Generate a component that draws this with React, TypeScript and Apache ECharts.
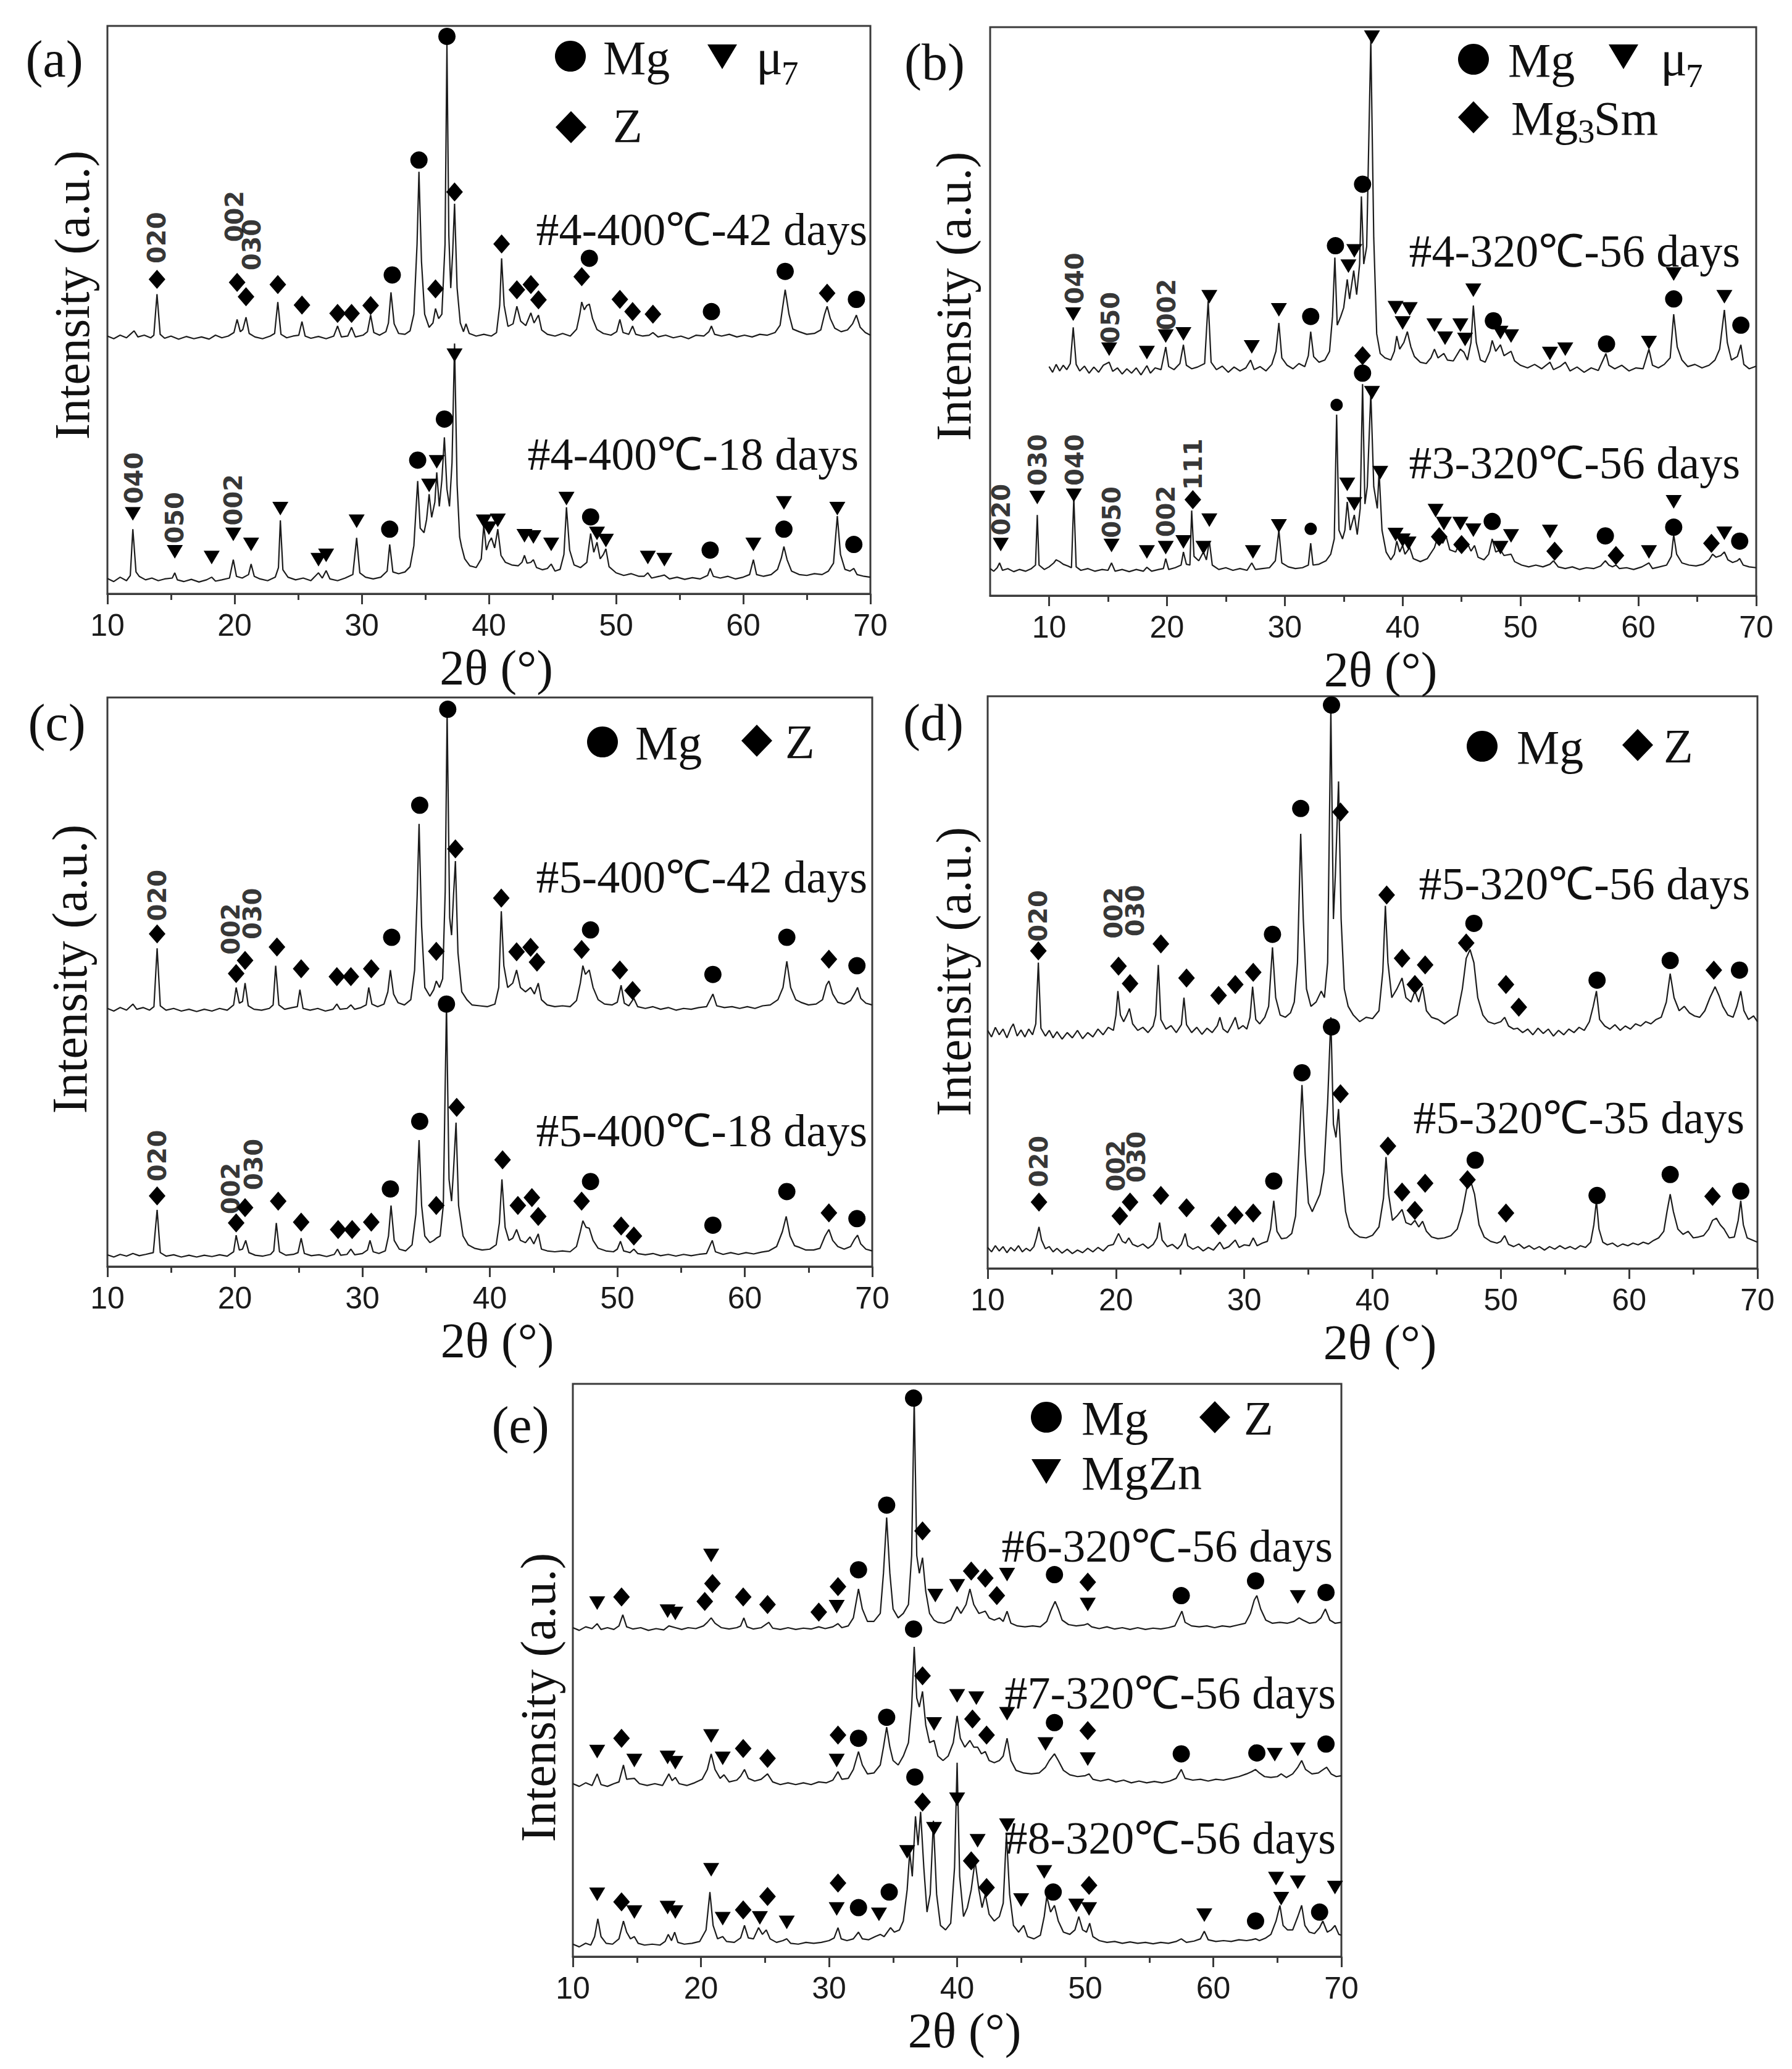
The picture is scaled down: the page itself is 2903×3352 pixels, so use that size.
import React, { useEffect, useRef } from "react";
import * as echarts from "echarts";

// ---------- axis ticks ----------
const X_TICKS = [10, 20, 30, 40, 50, 60, 70];
const X_MINOR = [15, 25, 35, 45, 55, 65];

// ---------- sample names ----------
const NAMES_A = ["#4-400℃-42 days", "#4-400℃-18 days"];
const NAMES_B = ["#4-320℃-56 days", "#3-320℃-56 days"];
const NAMES_C = ["#5-400℃-42 days", "#5-400℃-18 days"];
const NAMES_D = ["#5-320℃-56 days", "#5-320℃-35 days"];
const NAMES_E = ["#6-320℃-56 days", "#7-320℃-56 days", "#8-320℃-56 days"];

// ---------- panel (a) ----------
const A_42 = [[10,590],[10.5,584],[11,592],[11.5,586],[11.8,594],[12.1,602],[12.4,588],[12.9,592],[13.4,586],[13.65,592],[13.9,686],[14.15,594],[14.5,585],[15,590],[15.6,583],[16.2,589],[16.8,584],[17.4,588],[18,583],[18.5,592],[19,586],[19.5,590],[19.95,598],[20.2,628],[20.45,600],[20.65,605],[20.9,633],[21.15,596],[21.6,588],[22.2,584],[22.8,590],[23.15,596],[23.4,668],[23.65,594],[24.1,586],[24.6,590],[25.05,592],[25.3,623],[25.55,590],[26,585],[26.6,589],[27.2,584],[27.8,590],[28.1,613],[28.4,588],[28.9,590],[29.2,610],[29.5,588],[30.1,592],[30.45,600],[30.7,638],[30.95,598],[31.4,592],[31.9,600],[32.1,620],[32.3,690],[32.55,618],[32.9,596],[33.4,594],[33.8,602],[34.1,640],[34.35,800],[34.5,966],[34.7,760],[34.95,640],[35.3,610],[35.6,620],[35.8,653],[36.05,630],[36.3,640],[36.55,800],[36.7,1258],[36.85,820],[37.0,700],[37.15,780],[37.3,893],[37.5,700],[37.75,620],[38.0,600],[38.2,618],[38.45,596],[39,590],[39.6,594],[40.2,590],[40.6,598],[40.85,660],[41.0,768],[41.2,660],[41.5,612],[41.9,618],[42.2,658],[42.5,624],[42.9,614],[43.3,643],[43.55,620],[43.9,638],[44.15,604],[44.6,594],[45.2,590],[45.8,596],[46.4,590],[46.9,606],[47.15,640],[47.3,668],[47.5,650],[47.7,660],[47.9,663],[48.15,630],[48.5,605],[49,596],[49.6,592],[50.05,600],[50.3,628],[50.55,598],[51,594],[51.3,613],[51.55,594],[52.1,590],[52.6,592],[52.9,598],[53.3,588],[53.9,592],[54.5,586],[55.1,590],[55.7,584],[56.3,592],[56.9,590],[57.3,600],[57.5,613],[57.75,594],[58.3,590],[58.9,594],[59.5,588],[60.1,592],[60.7,588],[61.3,594],[61.9,592],[62.5,598],[62.9,615],[63.3,696],[63.6,640],[63.9,606],[64.4,600],[65,594],[65.6,596],[66.1,604],[66.4,640],[66.6,658],[66.85,630],[67.2,608],[67.7,600],[68.2,604],[68.6,618],[68.9,638],[69.2,610],[69.6,598],[70,592]];
const A_18 = [[10,35],[10.5,28],[11,38],[11.5,30],[11.8,42],[12.0,148],[12.25,50],[12.5,40],[13,32],[13.5,36],[14,30],[14.5,34],[15.1,36],[15.3,48],[15.5,32],[16,28],[16.6,33],[17.2,27],[17.8,32],[18.2,38],[18.5,29],[19,32],[19.6,36],[19.9,78],[20.15,40],[20.6,36],[21.1,44],[21.3,68],[21.55,40],[22,34],[22.6,30],[23.2,38],[23.45,60],[23.6,168],[23.8,55],[24.2,38],[24.8,32],[25.4,36],[26,30],[26.6,48],[26.9,36],[27.2,53],[27.5,34],[28.1,30],[28.7,36],[29.3,44],[29.6,128],[29.85,48],[30.3,38],[30.9,34],[31.5,38],[32.0,52],[32.2,113],[32.45,50],[32.9,46],[33.4,50],[33.8,62],[34.1,110],[34.4,258],[34.6,150],[34.9,140],[35.1,170],[35.3,228],[35.5,175],[35.75,210],[35.9,278],[36.1,200],[36.3,260],[36.5,358],[36.7,240],[36.9,200],[37.1,300],[37.3,573],[37.5,250],[37.7,130],[37.85,108],[38.1,80],[38.5,64],[39,60],[39.4,80],[39.6,158],[39.8,100],[40.0,118],[40.2,128],[40.45,105],[40.7,148],[40.95,88],[41.3,72],[41.8,66],[42.3,64],[42.6,72],[42.8,88],[43.0,70],[43.3,72],[43.5,78],[43.75,60],[44.2,55],[44.6,58],[44.9,68],[45.2,52],[45.6,56],[45.9,90],[46.1,198],[46.35,100],[46.7,66],[47.2,60],[47.7,72],[48.0,138],[48.25,95],[48.5,118],[48.75,80],[49.0,90],[49.2,103],[49.45,62],[50,48],[50.6,42],[51.2,46],[51.8,40],[52.2,40],[52.5,48],[52.8,36],[53.4,40],[53.8,43],[54.2,34],[54.8,38],[55.4,33],[56,37],[56.6,34],[57.2,42],[57.4,58],[57.65,40],[58.2,36],[58.8,40],[59.4,34],[60,38],[60.5,44],[60.8,78],[61.05,44],[61.6,40],[62.2,44],[62.7,56],[63.0,82],[63.2,108],[63.45,78],[63.8,52],[64.4,44],[65,42],[65.6,46],[66.2,44],[66.7,52],[67.1,70],[67.4,178],[67.65,90],[68,56],[68.4,52],[68.7,58],[68.95,44],[69.5,40],[70,38]];
const A_MG = [[32.4,730],[34.5,993],[36.7,1276],[47.9,768],[57.5,646],[63.3,738],[68.9,674],[32.2,148],[34.4,306],[36.5,400],[48.0,176],[57.4,100],[63.2,148],[68.7,113]];
const A_Z = [[13.9,720],[20.2,713],[20.9,680],[23.4,708],[25.3,661],[28.1,642],[29.2,642],[30.7,660],[35.8,698],[37.3,920],[41.0,801],[42.2,696],[43.3,708],[43.9,673],[47.3,726],[50.3,674],[51.3,646],[52.9,640],[66.6,688]];
const A_MU7 = [[12.0,183],[15.3,96],[18.2,83],[19.9,136],[21.3,113],[23.6,195],[26.6,78],[27.2,88],[29.6,166],[35.3,248],[35.9,302],[37.3,546],[39.6,166],[40.0,150],[40.7,168],[42.8,133],[43.5,130],[44.9,113],[46.1,218],[48.5,138],[49.2,122],[52.5,83],[53.8,78],[60.8,113],[63.2,208],[67.4,195]];
const A_HKL: [number, number, string][] = [[13.9,756,"020"],[20.0,805,"002"],[21.35,740,"030"],[12.1,206,"040"],[15.3,115,"050"],[19.9,156,"002"]];

// ---------- panel (b) ----------
const B_4 = [[10,525],[10.3,512],[10.6,530],[10.9,515],[11.2,528],[11.5,518],[11.8,532],[12.05,615],[12.3,530],[12.6,515],[13,526],[13.4,510],[13.8,524],[14.2,512],[14.6,528],[15.1,535],[15.4,514],[15.8,522],[16.2,508],[16.6,520],[17,510],[17.4,522],[17.8,506],[18.3,527],[18.6,510],[19,522],[19.5,518],[19.9,570],[20.15,525],[20.6,518],[21.1,532],[21.4,575],[21.65,528],[22.1,520],[22.6,524],[23.2,532],[23.5,675],[23.75,535],[24.2,518],[24.7,526],[25.2,512],[25.7,524],[26.2,515],[26.7,522],[27.1,540],[27.4,518],[27.9,525],[28.4,515],[28.9,530],[29.25,560],[29.5,625],[29.75,545],[30.2,528],[30.7,520],[31.2,532],[31.7,525],[32.0,550],[32.2,605],[32.45,548],[32.9,535],[33.4,540],[33.8,560],[34.05,640],[34.25,775],[34.45,620],[34.75,640],[35.0,660],[35.3,725],[35.5,680],[35.85,745],[36.1,690],[36.35,760],[36.5,915],[36.7,760],[36.95,800],[37.3,1275],[37.55,820],[37.8,600],[38.1,555],[38.5,545],[39.0,540],[39.3,560],[39.5,595],[39.75,565],[40.1,580],[40.4,605],[40.7,570],[41.0,548],[41.5,535],[42.0,532],[42.4,545],[42.7,565],[43.0,545],[43.5,555],[43.8,540],[44.3,538],[44.9,565],[45.2,558],[45.5,540],[45.8,580],[46.0,665],[46.25,580],[46.6,540],[47.0,535],[47.4,560],[47.6,585],[47.9,560],[48.3,575],[48.6,550],[49.2,560],[49.5,538],[50,528],[50.6,522],[51.2,530],[51.8,520],[52.5,535],[52.8,518],[53.4,526],[53.8,535],[54.2,515],[54.8,524],[55.4,512],[56,522],[56.6,516],[57.25,555],[57.5,528],[58,520],[58.6,528],[59.2,515],[59.8,522],[60.4,520],[60.9,565],[61.2,528],[61.7,522],[62.2,530],[62.7,545],[63.0,645],[63.3,570],[63.7,540],[64.2,525],[64.8,530],[65.4,522],[66,528],[66.5,540],[66.9,565],[67.3,655],[67.55,580],[67.9,540],[68.4,548],[68.7,575],[68.95,530],[69.4,520],[70,526]];
const B_3 = [[5,62],[5.3,56],[5.6,64],[5.8,75],[6.05,58],[6.5,62],[7,55],[7.5,60],[8,56],[8.5,62],[8.85,70],[9.0,185],[9.15,70],[9.6,60],[10,66],[10.4,75],[10.6,82],[10.9,78],[11.2,72],[11.6,68],[11.9,64],[12.1,225],[12.3,66],[12.7,58],[13.3,62],[13.9,56],[14.5,60],[15.0,58],[15.3,75],[15.6,56],[16.2,60],[16.8,55],[17.4,60],[18.0,56],[18.3,65],[18.7,56],[19.3,60],[19.7,62],[19.9,85],[20.15,60],[20.7,64],[21.2,70],[21.4,100],[21.65,72],[21.95,70],[22.1,195],[22.3,90],[22.7,80],[23.1,100],[23.35,82],[23.6,125],[23.85,70],[24.4,60],[25,64],[25.6,58],[26.2,62],[26.8,58],[27.2,75],[27.5,60],[28.1,62],[28.7,64],[29.2,80],[29.5,150],[29.75,75],[30.3,66],[30.9,62],[31.5,64],[32.0,70],[32.2,120],[32.4,70],[32.9,72],[33.5,80],[33.9,95],[34.2,130],[34.4,415],[34.6,150],[34.9,130],[35.1,150],[35.3,215],[35.55,150],[35.9,185],[36.15,140],[36.4,200],[36.6,485],[36.8,210],[37.0,250],[37.3,465],[37.55,250],[37.85,200],[38.0,285],[38.25,150],[38.6,100],[39.0,82],[39.3,95],[39.5,125],[39.75,100],[40.0,115],[40.2,95],[40.6,110],[40.9,85],[41.5,78],[42.1,85],[42.7,110],[43.1,145],[43.4,120],[43.7,135],[44.0,105],[44.5,100],[44.9,125],[45.2,110],[45.5,120],[45.8,102],[46.1,115],[46.4,88],[46.9,82],[47.3,95],[47.6,130],[47.9,100],[48.3,105],[48.6,92],[49.2,95],[49.5,78],[50.1,70],[50.7,66],[51.3,70],[51.9,66],[52.5,72],[52.8,80],[53.2,66],[53.8,62],[54.4,66],[55,60],[55.6,64],[56.2,62],[56.8,68],[57.2,80],[57.5,70],[57.8,66],[58.1,70],[58.4,62],[59,64],[59.6,60],[60.3,66],[60.9,75],[61.2,62],[61.8,66],[62.4,70],[62.8,90],[63.0,140],[63.25,95],[63.7,75],[64.3,70],[64.9,68],[65.5,72],[66.0,82],[66.3,95],[66.6,88],[67.0,92],[67.3,100],[67.6,82],[68.0,76],[68.4,80],[68.6,85],[68.9,70],[69.4,66],[70,64]];
const B_MG = [[32.2,640],[34.3,802],[36.6,943],[47.7,630],[57.3,577],[63.0,680],[68.7,620],[36.6,510],[47.6,170],[57.2,137],[63.0,157],[68.6,125]];
const B_MG_SMALL = [[32.2,153],[34.4,437]];
const B_MG3SM = [[22.2,220],[36.6,550],[43.1,135],[45.0,117],[52.9,102],[58.1,92],[66.2,120]];
const B_MU7 = [[12.05,645],[15.1,565],[18.3,557],[19.9,595],[21.4,600],[23.6,685],[27.2,570],[29.5,655],[35.4,755],[35.9,790],[37.4,1280],[39.4,660],[40.0,625],[40.6,657],[42.7,620],[43.6,590],[44.9,620],[45.3,587],[46.0,700],[48.3,603],[49.2,595],[52.5,555],[53.8,565],[60.9,580],[63.0,737],[67.3,685],
  [5.9,117],[9.0,225],[12.1,230],[15.3,115],[18.3,100],[19.9,110],[21.4,123],[23.1,110],[23.6,173],[27.3,100],[29.5,160],[35.3,255],[35.9,210],[37.4,465],[38.1,282],[39.4,140],[40.0,127],[40.5,120],[42.8,195],[43.5,165],[44.9,165],[46.0,150],[48.3,110],[49.2,137],[52.5,147],[60.9,100],[63.0,215],[67.3,143]];
const B_HKL: [number, number, string][] = [[12.15,668,"040"],[15.2,578,"050"],[20.0,608,"002"],[5.95,138,"020"],[9.05,252,"030"],[12.15,252,"040"],[15.3,132,"050"],[19.95,134,"002"],[22.25,242,"111"]];

// ---------- panel (c) ----------
const C_42 = [[10,592],[10.5,586],[11,594],[11.5,588],[12.0,602],[12.3,590],[12.8,594],[13.3,588],[13.65,596],[13.9,730],[14.15,598],[14.6,588],[15.2,592],[15.8,586],[16.4,590],[17,585],[17.6,590],[18.2,586],[18.8,592],[19.4,588],[19.9,600],[20.1,640],[20.35,604],[20.6,608],[20.8,650],[21.05,598],[21.5,590],[22.1,588],[22.7,592],[23.0,600],[23.2,690],[23.45,600],[23.9,590],[24.5,594],[24.9,596],[25.1,635],[25.35,592],[25.9,588],[26.5,592],[27.1,586],[27.7,590],[28.0,602],[28.25,590],[28.8,592],[29.1,600],[29.4,590],[29.9,594],[30.3,600],[30.5,640],[30.75,602],[31.2,596],[31.7,602],[32.0,630],[32.2,680],[32.45,625],[32.8,605],[33.3,600],[33.8,612],[34.1,680],[34.3,850],[34.45,1015],[34.65,780],[34.9,640],[35.3,620],[35.6,635],[35.8,655],[36.05,640],[36.3,660],[36.5,860],[36.65,1270],[36.85,800],[37.0,760],[37.15,850],[37.3,930],[37.5,720],[37.8,630],[38.2,612],[38.6,600],[39.2,598],[39.8,596],[40.4,602],[40.7,640],[40.9,815],[41.1,690],[41.4,640],[41.8,650],[42.1,680],[42.4,640],[42.8,630],[43.2,640],[43.5,625],[43.8,650],[44.05,612],[44.5,600],[45.1,596],[45.7,598],[46.3,596],[46.8,610],[47.1,650],[47.3,690],[47.5,670],[47.8,680],[48.1,640],[48.5,612],[49.0,602],[49.6,600],[50.0,606],[50.3,645],[50.55,604],[50.9,598],[51.3,615],[51.6,596],[52.2,592],[52.8,596],[53.4,590],[54.0,594],[54.6,588],[55.2,592],[55.8,590],[56.4,594],[57.0,596],[57.5,625],[57.8,598],[58.4,594],[59.0,596],[59.6,592],[60.2,596],[60.8,592],[61.4,598],[62.0,600],[62.6,612],[63.0,640],[63.3,700],[63.6,640],[64.0,612],[64.4,606],[65.0,600],[65.6,602],[66.1,612],[66.4,645],[66.6,655],[66.9,625],[67.3,606],[67.8,602],[68.3,610],[68.6,625],[68.85,640],[69.1,615],[69.5,604],[70,600]];
const C_18 = [[10,27],[10.5,22],[11,28],[11.5,24],[12,30],[12.5,25],[13,28],[13.6,32],[13.9,130],[14.15,32],[14.6,24],[15.2,27],[15.8,22],[16.4,26],[17,22],[17.6,26],[18.2,23],[18.8,27],[19.4,24],[19.9,34],[20.1,72],[20.35,38],[20.6,40],[20.85,60],[21.1,32],[21.6,26],[22.2,24],[22.8,28],[23.05,36],[23.25,100],[23.5,34],[24,26],[24.6,28],[24.95,32],[25.2,65],[25.45,30],[26,25],[26.6,27],[27.2,23],[27.8,28],[28.05,40],[28.3,26],[28.8,28],[29.1,40],[29.4,27],[30,30],[30.4,38],[30.6,60],[30.85,34],[31.3,30],[31.8,36],[32.05,70],[32.25,140],[32.5,60],[32.9,40],[33.4,36],[33.9,50],[34.2,120],[34.45,290],[34.65,140],[34.9,70],[35.3,55],[35.6,60],[35.8,65],[36.1,70],[36.35,140],[36.6,600],[36.8,200],[37.0,150],[37.15,220],[37.35,330],[37.55,140],[37.9,70],[38.3,50],[38.8,42],[39.4,38],[40,40],[40.5,50],[40.75,100],[40.95,200],[41.2,90],[41.5,60],[41.8,65],[42.1,85],[42.4,60],[42.8,55],[43.15,68],[43.45,52],[43.8,75],[44.05,40],[44.5,36],[45.1,34],[45.7,36],[46.3,34],[46.8,46],[47.1,80],[47.3,105],[47.55,90],[47.8,88],[48.1,60],[48.5,42],[49.1,36],[49.7,34],[50.0,40],[50.25,58],[50.5,36],[51,32],[51.3,40],[51.6,30],[52.2,27],[52.8,30],[53.4,25],[54,28],[54.6,24],[55.2,28],[55.8,25],[56.4,28],[57,30],[57.45,60],[57.7,34],[58.3,28],[58.9,32],[59.5,28],[60.1,32],[60.7,29],[61.3,33],[61.9,36],[62.5,46],[62.95,80],[63.25,115],[63.55,70],[63.9,48],[64.3,44],[64.8,38],[65.4,38],[65.9,42],[66.3,70],[66.6,85],[66.9,60],[67.3,46],[67.8,40],[68.3,46],[68.6,62],[68.85,72],[69.1,52],[69.5,40],[70,36]];
const C_MG = [[32.3,755],[34.5,1058],[36.7,1278],[47.9,772],[57.5,670],[63.3,755],[68.8,690],[32.2,178],[34.5,333],[36.6,602],[47.9,195],[57.5,95],[63.3,172],[68.8,110]];
const C_Z = [[13.9,763],[20.1,672],[20.8,702],[23.3,733],[25.2,683],[28.0,665],[29.1,665],[30.7,683],[35.8,723],[37.3,958],[40.9,845],[42.1,722],[43.2,732],[43.7,698],[47.2,727],[50.2,680],[51.2,633],[66.6,705],
  [13.9,162],[20.1,100],[20.8,135],[23.4,150],[25.2,102],[28.1,85],[29.2,85],[30.7,102],[35.8,140],[37.4,365],[41.0,245],[42.2,140],[43.3,158],[43.8,115],[47.2,150],[50.3,93],[51.3,70],[66.6,123]];
const C_HKL: [number, number, string][] = [[13.9,792,"020"],[19.7,715,"002"],[21.4,750,"030"],[13.9,195,"020"],[19.7,120,"002"],[21.5,175,"030"]];

// ---------- panel (d) ----------
const D_56 = [[10,545],[10.3,530],[10.6,552],[10.9,535],[11.2,548],[11.5,528],[11.8,550],[12.0,560],[12.3,532],[12.6,546],[12.9,530],[13.2,548],[13.5,535],[13.75,560],[13.95,700],[14.15,550],[14.5,532],[14.8,545],[15.1,528],[15.4,542],[15.8,525],[16.2,540],[16.6,528],[17.0,545],[17.4,526],[17.8,540],[18.2,530],[18.6,548],[19.0,535],[19.4,552],[19.8,545],[20.0,580],[20.15,635],[20.35,580],[20.6,565],[20.85,580],[21.05,595],[21.3,560],[21.7,545],[22.1,552],[22.5,540],[22.9,555],[23.1,580],[23.3,695],[23.5,570],[23.9,548],[24.3,556],[24.7,540],[25.1,558],[25.3,620],[25.5,558],[25.9,540],[26.3,552],[26.7,536],[27.1,550],[27.5,540],[27.9,556],[28.1,575],[28.35,548],[28.7,540],[29.0,556],[29.3,575],[29.55,548],[29.9,556],[30.2,548],[30.45,575],[30.65,645],[30.9,570],[31.2,560],[31.6,575],[31.9,600],[32.2,735],[32.45,620],[32.8,580],[33.2,575],[33.6,585],[33.9,610],[34.15,700],[34.4,995],[34.6,800],[34.85,640],[35.2,600],[35.6,610],[36.0,635],[36.25,620],[36.5,700],[36.75,1280],[36.95,800],[37.1,900],[37.35,1115],[37.55,800],[37.8,640],[38.1,600],[38.5,580],[39,565],[39.5,575],[40,572],[40.5,590],[40.8,680],[41.0,830],[41.2,700],[41.5,620],[41.9,640],[42.3,665],[42.6,620],[43.0,610],[43.3,635],[43.6,610],[43.9,645],[44.2,590],[44.6,575],[45.1,570],[45.6,560],[46.1,570],[46.6,580],[47.0,640],[47.3,710],[47.6,730],[47.9,700],[48.2,620],[48.6,580],[49.0,565],[49.5,560],[50.0,565],[50.3,575],[50.6,555],[51.0,548],[51.3,550],[51.7,540],[52.1,548],[52.5,535],[52.9,550],[53.3,538],[53.7,548],[54.1,532],[54.5,545],[54.9,535],[55.3,548],[55.7,540],[56.1,552],[56.5,545],[56.9,565],[57.2,600],[57.45,635],[57.7,570],[58.1,555],[58.5,548],[58.9,558],[59.3,545],[59.7,555],[60.1,548],[60.5,560],[60.9,555],[61.3,565],[61.7,560],[62.1,570],[62.5,575],[62.9,610],[63.2,675],[63.5,620],[63.9,590],[64.3,600],[64.7,585],[65.1,578],[65.5,575],[65.9,590],[66.3,620],[66.7,645],[67.0,625],[67.3,600],[67.7,580],[68.1,575],[68.4,600],[68.7,635],[68.95,590],[69.3,570],[69.7,578],[70,565]];
const D_35 = [[10,48],[10.3,38],[10.6,52],[10.9,40],[11.2,50],[11.5,36],[11.8,48],[12.1,40],[12.4,52],[12.7,38],[13.0,46],[13.3,40],[13.6,50],[13.8,70],[14.0,95],[14.2,65],[14.5,45],[14.8,50],[15.1,38],[15.4,46],[15.8,35],[16.2,44],[16.6,34],[17.0,42],[17.4,36],[17.8,46],[18.2,38],[18.6,48],[19.0,40],[19.4,52],[19.8,55],[20.2,80],[20.5,62],[20.75,58],[21.0,70],[21.3,55],[21.7,50],[22.1,56],[22.5,46],[22.9,55],[23.2,70],[23.4,105],[23.6,65],[24.0,50],[24.4,55],[24.8,45],[25.1,55],[25.4,80],[25.6,52],[26.0,44],[26.4,50],[26.8,40],[27.2,48],[27.6,42],[28.1,60],[28.4,45],[28.8,50],[29.3,65],[29.6,48],[30.0,54],[30.4,52],[30.7,70],[31.0,52],[31.4,58],[31.8,62],[32.05,90],[32.3,155],[32.55,85],[32.9,68],[33.3,70],[33.7,80],[34.0,120],[34.25,260],[34.5,420],[34.75,260],[35.0,150],[35.3,130],[35.6,150],[35.9,170],[36.2,220],[36.5,380],[36.75,575],[36.95,330],[37.15,300],[37.35,365],[37.6,220],[37.9,130],[38.2,95],[38.6,80],[39,72],[39.5,70],[40,76],[40.5,95],[40.85,160],[41.05,255],[41.25,170],[41.55,110],[41.9,120],[42.3,135],[42.6,105],[43.0,100],[43.3,110],[43.6,95],[43.9,108],[44.2,85],[44.6,72],[45.1,68],[45.6,70],[46.1,75],[46.6,90],[47.0,130],[47.35,185],[47.65,200],[47.95,170],[48.3,100],[48.7,72],[49.2,62],[49.7,58],[50.0,62],[50.3,75],[50.6,55],[51.0,50],[51.4,56],[51.8,46],[52.2,52],[52.6,44],[53.0,50],[53.4,42],[53.8,50],[54.2,44],[54.6,52],[55.0,45],[55.4,50],[55.8,44],[56.2,52],[56.6,48],[57.0,60],[57.25,100],[57.45,155],[57.65,90],[57.95,60],[58.3,54],[58.7,58],[59.1,50],[59.5,56],[59.9,52],[60.3,58],[60.7,54],[61.1,60],[61.5,56],[61.9,64],[62.3,70],[62.7,85],[62.95,130],[63.2,170],[63.45,130],[63.8,90],[64.2,78],[64.6,85],[65.0,70],[65.4,72],[65.8,75],[66.2,90],[66.5,110],[66.8,115],[67.1,100],[67.4,90],[67.8,70],[68.2,72],[68.5,110],[68.7,155],[68.9,100],[69.2,70],[69.6,65],[70,60]];
const D_MG = [[32.2,765],[34.4,1053],[36.8,1290],[47.9,790],[57.5,660],[63.2,705],[68.6,683],[32.3,200],[34.5,448],[36.8,553],[48.0,248],[57.5,167],[63.2,215],[68.7,177]];
const D_Z = [[13.95,727],[20.2,692],[21.1,652],[23.5,743],[25.5,665],[28.0,625],[29.3,650],[30.7,678],[37.5,1045],[41.1,855],[42.3,710],[43.3,650],[44.1,695],[47.3,745],[50.4,650],[51.4,598],[66.6,683],
  [14.0,152],[20.3,120],[21.1,152],[23.5,167],[25.5,139],[28.0,98],[29.3,122],[30.7,127],[37.5,400],[41.2,280],[42.3,175],[43.3,133],[44.1,195],[47.4,203],[50.4,127],[66.5,165]];
const D_HKL: [number, number, string][] = [[13.95,748,"020"],[19.8,755,"002"],[21.5,760,"030"],[14.0,186,"020"],[20.0,176,"002"],[21.6,196,"030"]];

// ---------- panel (e) ----------
const E_6 = [[10,738],[10.5,732],[11,740],[11.5,736],[11.9,747],[12.2,734],[12.7,738],[13.2,734],[13.6,742],[13.9,767],[14.2,740],[14.7,735],[15.3,738],[15.9,732],[16.5,736],[17.1,733],[17.5,742],[18.0,738],[18.5,734],[19.0,738],[19.6,736],[20.2,742],[20.5,750],[20.8,760],[21.1,748],[21.6,738],[22.2,735],[22.8,738],[23.1,742],[23.35,760],[23.6,740],[24.1,735],[24.7,738],[25.3,750],[25.6,737],[26.2,734],[26.8,738],[27.4,734],[28,737],[28.6,735],[29.2,740],[29.7,736],[30.3,740],[30.7,747],[31.0,738],[31.5,742],[31.9,760],[32.3,825],[32.6,780],[33.0,752],[33.5,752],[34.0,770],[34.25,860],[34.5,985],[34.75,860],[35.0,780],[35.4,760],[35.8,770],[36.2,790],[36.45,900],[36.65,1250],[36.85,900],[37.05,860],[37.3,895],[37.55,820],[37.85,770],[38.2,755],[38.5,750],[39.0,748],[39.5,755],[40.0,785],[40.3,770],[40.7,790],[41.0,825],[41.3,790],[41.7,770],[42.2,775],[42.5,760],[42.9,755],[43.3,760],[43.6,752],[43.9,775],[44.2,748],[44.7,742],[45.3,740],[45.9,742],[46.5,740],[47.0,752],[47.3,775],[47.65,797],[47.9,780],[48.2,755],[48.7,745],[49.3,742],[49.9,744],[50.2,747],[50.5,740],[51.1,736],[51.7,740],[52.3,735],[52.9,738],[53.5,734],[54.1,738],[54.7,734],[55.3,737],[55.9,735],[56.5,738],[57.0,742],[57.3,760],[57.55,775],[57.8,750],[58.3,742],[58.9,740],[59.5,742],[60.1,738],[60.7,742],[61.3,740],[61.9,744],[62.5,748],[62.9,770],[63.2,800],[63.4,810],[63.7,780],[64.1,755],[64.6,748],[65.2,750],[65.8,748],[66.3,752],[66.7,760],[67.0,755],[67.5,748],[68.0,750],[68.4,760],[68.75,780],[69.1,755],[69.5,748],[70,750]];
const E_7 = [[10,388],[10.5,382],[11,390],[11.5,384],[11.9,410],[12.2,386],[12.7,382],[13.2,388],[13.6,392],[13.95,430],[14.2,398],[14.8,400],[15.2,388],[15.8,384],[16.4,388],[17.0,384],[17.5,410],[17.75,395],[18.0,402],[18.3,388],[18.9,384],[19.5,390],[20.1,398],[20.5,420],[20.8,455],[21.1,420],[21.5,400],[21.8,408],[22.2,392],[22.8,396],[23.1,405],[23.4,420],[23.7,400],[24.2,394],[24.7,398],[25.2,410],[25.6,392],[26.2,386],[26.8,390],[27.4,386],[28.0,390],[28.6,386],[29.2,392],[29.8,390],[30.3,396],[30.7,415],[31.0,398],[31.5,400],[31.9,420],[32.3,460],[32.6,430],[33.0,410],[33.5,412],[34.0,430],[34.25,470],[34.5,515],[34.75,470],[35.0,440],[35.4,430],[35.8,450],[36.2,480],[36.45,560],[36.65,695],[36.85,580],[37.05,560],[37.3,595],[37.55,520],[37.85,480],[38.2,485],[38.5,450],[38.9,440],[39.3,450],[39.7,480],[40.0,540],[40.25,490],[40.6,470],[41.0,485],[41.3,470],[41.6,470],[41.9,455],[42.2,460],[42.5,440],[42.9,435],[43.3,440],[43.6,450],[43.9,490],[44.2,440],[44.6,418],[45.2,412],[45.8,410],[46.4,412],[46.9,425],[47.2,440],[47.6,455],[47.9,440],[48.3,418],[48.8,408],[49.4,404],[50.0,406],[50.3,410],[50.6,398],[51.2,394],[51.8,398],[52.4,392],[53.0,396],[53.6,390],[54.2,394],[54.8,390],[55.4,393],[56.0,390],[56.6,394],[57.1,400],[57.5,420],[57.8,400],[58.4,396],[59.0,398],[59.6,394],[60.2,398],[60.8,396],[61.4,400],[62.0,404],[62.6,410],[63.0,415],[63.3,420],[63.6,412],[64.0,404],[64.5,402],[65.0,404],[65.3,410],[65.7,402],[66.2,410],[66.6,425],[66.9,440],[67.2,420],[67.7,410],[68.2,412],[68.6,420],[68.85,425],[69.2,410],[69.6,404],[70,406]];
const E_8 = [[10,28],[10.5,22],[11,30],[11.4,26],[11.7,45],[11.95,85],[12.2,45],[12.6,30],[13.1,28],[13.6,40],[13.95,80],[14.2,55],[14.5,40],[14.8,45],[15.1,30],[15.6,26],[16.2,28],[16.8,26],[17.2,34],[17.45,50],[17.7,36],[17.95,55],[18.2,32],[18.7,28],[19.3,30],[19.9,34],[20.4,60],[20.7,145],[20.95,70],[21.3,40],[21.7,45],[22.0,34],[22.6,32],[23.1,42],[23.4,70],[23.7,42],[24.1,40],[24.5,65],[24.8,50],[25.1,60],[25.4,40],[25.9,32],[26.4,36],[26.7,40],[27.0,30],[27.6,28],[28.2,32],[28.8,30],[29.4,32],[30.0,36],[30.4,42],[30.7,65],[30.95,40],[31.4,36],[31.9,40],[32.3,55],[32.6,40],[33.1,38],[33.6,45],[34.0,50],[34.3,45],[34.8,65],[35.1,55],[35.5,60],[35.8,80],[36.1,150],[36.3,235],[36.5,180],[36.75,315],[36.95,250],[37.15,325],[37.4,200],[37.65,100],[37.9,140],[38.15,305],[38.4,140],[38.7,70],[39.1,60],[39.5,75],[39.8,200],[40.0,435],[40.2,180],[40.5,90],[40.8,110],[41.1,150],[41.4,215],[41.7,150],[41.95,110],[42.2,140],[42.5,95],[42.9,80],[43.3,90],[43.6,120],[43.85,275],[44.1,140],[44.4,70],[44.8,55],[45.2,70],[45.5,45],[46.0,40],[46.5,48],[46.8,90],[47.0,135],[47.3,100],[47.6,115],[47.9,80],[48.3,55],[48.8,50],[49.2,60],[49.5,90],[49.8,60],[50.1,55],[50.35,75],[50.6,45],[51.1,36],[51.7,32],[52.3,34],[52.9,30],[53.5,33],[54.1,30],[54.7,32],[55.3,29],[55.9,32],[56.5,30],[57.1,34],[57.5,40],[57.9,32],[58.5,35],[59.0,40],[59.3,57],[59.6,38],[60.2,34],[60.8,36],[61.4,34],[62.0,38],[62.6,36],[63.0,38],[63.3,40],[63.6,36],[64.1,42],[64.5,50],[64.9,80],[65.2,115],[65.45,70],[65.8,60],[66.2,60],[66.6,90],[66.9,115],[67.15,70],[67.5,55],[67.9,52],[68.3,65],[68.55,80],[68.9,55],[69.2,60],[69.5,70],[69.8,50],[70,48]];
const E_MG = [[32.3,868],[34.5,1013],[36.6,1253],[47.6,857],[57.5,810],[63.3,843],[68.8,817],[32.3,490],[34.5,537],[36.6,735],[47.6,525],[57.5,455],[63.4,457],[68.8,477],[32.3,110],[34.7,145],[36.7,403],[47.5,145],[63.3,80],[68.3,100]];
const E_Z = [[13.8,807],[20.3,797],[20.9,837],[23.3,807],[25.2,790],[29.2,773],[30.7,830],[37.3,955],[41.1,865],[42.2,849],[43.1,810],[50.2,840],
  [13.8,490],[23.3,467],[25.2,445],[30.7,497],[37.3,630],[41.2,533],[42.3,497],[50.2,507],
  [13.8,123],[23.3,105],[25.2,135],[30.7,165],[37.3,347],[41.1,215],[42.3,155],[50.3,160]];
const E_MGZN = [[11.9,793],[17.4,775],[18.0,770],[20.8,900],[30.6,785],[38.3,810],[40.0,832],[43.9,857],[50.2,790],[66.6,807],
  [11.9,460],[14.8,440],[17.4,447],[18.0,435],[20.8,495],[21.7,445],[30.6,440],[38.2,522],[40.0,585],[41.5,580],[43.9,545],[46.9,477],[50.2,443],[64.8,453],[66.6,465],
  [11.9,140],[14.8,100],[17.4,110],[18.0,100],[20.8,195],[21.7,85],[24.6,87],[26.7,77],[30.6,107],[33.9,95],[36.1,235],[38.2,287],[40.0,353],[41.6,260],[43.9,295],[45.0,127],[46.8,190],[49.3,115],[50.3,107],[59.3,93],[64.9,175],[65.3,130],[66.6,167],[69.5,155]];

// ---------- layout / style ----------
const SERIF = '"Liberation Serif", "Times New Roman", serif';
const SANS = '"Liberation Sans", Arial, sans-serif';
const HKL_FONT = '"DejaVu Sans", "Liberation Sans", sans-serif';
const INK = "#111";
const FRAME = "#3a3a3a";

const PANELS = [
  { left: 174, top: 42, width: 1236, height: 920, xmin: 10, ymax: 1300,
    curves: [A_42, A_18], circ: A_MG, circSmall: [], dia: A_Z, tri: A_MU7, hkl: A_HKL },
  { left: 1604, top: 44, width: 1241, height: 921, xmin: 5, ymax: 1303,
    curves: [B_4, B_3], circ: B_MG, circSmall: B_MG_SMALL, dia: B_MG3SM, tri: B_MU7, hkl: B_HKL },
  { left: 174, top: 1130, width: 1239, height: 922, xmin: 10, ymax: 1305,
    curves: [C_42, C_18], circ: C_MG, circSmall: [], dia: C_Z, tri: [], hkl: C_HKL },
  { left: 1600, top: 1128, width: 1247, height: 927, xmin: 10, ymax: 1310,
    curves: [D_56, D_35], circ: D_MG, circSmall: [], dia: D_Z, tri: [], hkl: D_HKL },
  { left: 928, top: 2242, width: 1245, height: 928, xmin: 10, ymax: 1285,
    curves: [E_6, E_7, E_8], circ: E_MG, circSmall: [], dia: E_Z, tri: E_MGZN, hkl: [] as [number, number, string][] },
];

function txt(text: string, x: number, y: number, size: number, align = "left", extra: any = {}) {
  return {
    type: "text", x, y, silent: true, z: 10,
    style: { text, fontSize: size, fontFamily: SERIF, fill: INK, textAlign: align, textVerticalAlign: "middle", verticalAlign: "middle", ...extra },
  };
}
function dot(cx: number, cy: number, r = 25) {
  return { type: "circle", silent: true, z: 10, shape: { cx, cy, r }, style: { fill: "#000" } };
}
function triDown(cx: number, cy: number, w = 48, h = 40) {
  return { type: "polygon", silent: true, z: 10, shape: { points: [[cx - w / 2, cy - h / 2], [cx + w / 2, cy - h / 2], [cx, cy + h / 2]] }, style: { fill: "#000" } };
}
function diamond(cx: number, cy: number, w = 50, h = 52) {
  return { type: "polygon", silent: true, z: 10, shape: { points: [[cx, cy - h / 2], [cx + w / 2, cy], [cx, cy + h / 2], [cx - w / 2, cy]] }, style: { fill: "#000" } };
}

function buildOption() {
  const grid: any[] = [];
  const xAxis: any[] = [];
  const yAxis: any[] = [];
  const series: any[] = [];
  PANELS.forEach((p, i) => {
    grid.push({ left: p.left, top: p.top, width: p.width, height: p.height, show: true, borderColor: FRAME, borderWidth: 3, backgroundColor: "transparent", containLabel: false });
    xAxis.push({
      type: "value", gridIndex: i, min: p.xmin, max: 70, position: "bottom",
      axisLine: { show: true, onZero: false, lineStyle: { color: FRAME, width: 3 } },
      axisTick: { show: true, inside: false, length: 17, customValues: X_TICKS, lineStyle: { color: FRAME, width: 3 } },
      axisLabel: { show: true, customValues: X_TICKS, margin: 26, fontSize: 50, fontFamily: SANS, color: "#1a1a1a" },
      splitLine: { show: false },
    });
    xAxis.push({
      type: "value", gridIndex: i, min: p.xmin, max: 70, position: "bottom",
      axisLine: { show: false, onZero: false },
      axisTick: { show: true, inside: false, length: 10, customValues: X_MINOR, lineStyle: { color: FRAME, width: 3 } },
      axisLabel: { show: false },
      splitLine: { show: false },
    });
    yAxis.push({ type: "value", gridIndex: i, min: 0, max: p.ymax, show: false, splitLine: { show: false } });
    const xi = 2 * i;
    p.curves.forEach((c) => {
      series.push({ type: "line", xAxisIndex: xi, yAxisIndex: i, data: c, showSymbol: false, symbol: "none", silent: true, z: 2,
        lineStyle: { color: "#1c1c1c", width: 2.2 } });
    });
    const sc = (data: number[][], symbol: string, size: any, extra: any = {}) => ({
      type: "scatter", xAxisIndex: xi, yAxisIndex: i, data, symbol, symbolSize: size, silent: true, z: 4,
      itemStyle: { color: "#000", opacity: 1 }, ...extra,
    });
    if (p.circ.length) series.push(sc(p.circ, "circle", 28));
    if (p.circSmall.length) series.push(sc(p.circSmall, "circle", 20));
    if (p.dia.length) series.push(sc(p.dia, "diamond", [27, 31]));
    if (p.tri.length) series.push(sc(p.tri, "triangle", [26, 22], { symbolRotate: 180 }));
    if (p.hkl.length) {
      series.push({
        type: "scatter", xAxisIndex: xi, yAxisIndex: i, symbol: "circle", symbolSize: 1, silent: true, z: 5,
        itemStyle: { color: "rgba(0,0,0,0)" },
        data: p.hkl.map((h) => ({ name: h[2], value: [h[0], h[1]] })),
        label: { show: true, position: "inside", rotate: 90, align: "left", verticalAlign: "middle", formatter: "{b}",
          fontSize: 40, fontWeight: "bold", fontFamily: HKL_FONT, color: "#000" },
      });
    }
  });

  const g: any[] = [];
  // panel letters
  g.push(txt("(a)", 88, 95, 84, "center"));
  g.push(txt("(b)", 1514, 100, 84, "center"));
  g.push(txt("(c)", 92, 1170, 84, "center"));
  g.push(txt("(d)", 1512, 1170, 84, "center"));
  g.push(txt("(e)", 843, 2308, 84, "center"));
  // y titles
  const yt = [[117, 478], [1545, 480], [113, 1570], [1545, 1574], [872, 2750]];
  yt.forEach(([x, y]) => g.push({ ...txt("Intensity (a.u.)", x, y, 80, "center"), rotation: Math.PI / 2 }));
  // x titles
  PANELS.forEach((p) => g.push(txt("2θ (°)", p.left + p.width / 2 + 12, p.top + p.height + 120, 80, "center")));
  // sample labels
  const sl: [string, number, number][] = [
    [NAMES_A[0], 1405, 372], [NAMES_A[1], 1391, 736],
    [NAMES_B[0], 2819, 407], [NAMES_B[1], 2819, 750],
    [NAMES_C[0], 1405, 1421], [NAMES_C[1], 1405, 1832],
    [NAMES_D[0], 2835, 1432], [NAMES_D[1], 2826, 1811],
    [NAMES_E[0], 2159, 2505], [NAMES_E[1], 2164, 2743], [NAMES_E[2], 2164, 2978],
  ];
  sl.forEach(([t, x, y]) => g.push(txt(t, x, y, 74, "right")));
  // legends
  g.push(dot(924, 91), txt("Mg", 977, 93, 78), triDown(1170, 92), txt("μ", 1225, 93, 80), txt("7", 1266, 118, 55), diamond(925, 206), txt("Z", 993, 203, 78));
  g.push(dot(2387, 96), txt("Mg", 2443, 97, 78), triDown(2630, 92), txt("μ", 2690, 95, 80), txt("7", 2731, 122, 55),
    diamond(2387, 190), txt("Mg", 2448, 191, 78), txt("3", 2556, 212, 55), txt("Sm", 2582, 191, 78));
  g.push(dot(976, 1202), txt("Mg", 1029, 1203, 78), diamond(1226, 1200), txt("Z", 1272, 1201, 78));
  g.push(dot(2401, 1209), txt("Mg", 2457, 1210, 78), diamond(2653, 1207), txt("Z", 2695, 1208, 78));
  g.push(dot(1695, 2296), txt("Mg", 1752, 2297, 78), diamond(1968, 2296), txt("Z", 2015, 2297, 78),
    triDown(1695, 2384), txt("MgZn", 1752, 2386, 78));

  return { animation: false, backgroundColor: "#ffffff", grid, xAxis, yAxis, series, graphic: g };
}

export default function App() {
  const ref = useRef<HTMLDivElement>(null);
  useEffect(() => {
    document.body.style.margin = "0";
    const chart = echarts.init(ref.current as HTMLDivElement, null, { renderer: "svg", width: 2903, height: 3352 });
    chart.setOption(buildOption() as any);
    return () => chart.dispose();
  }, []);
  return <div ref={ref} style={{ width: 2903, height: 3352, background: "#fff" }} />;
}
